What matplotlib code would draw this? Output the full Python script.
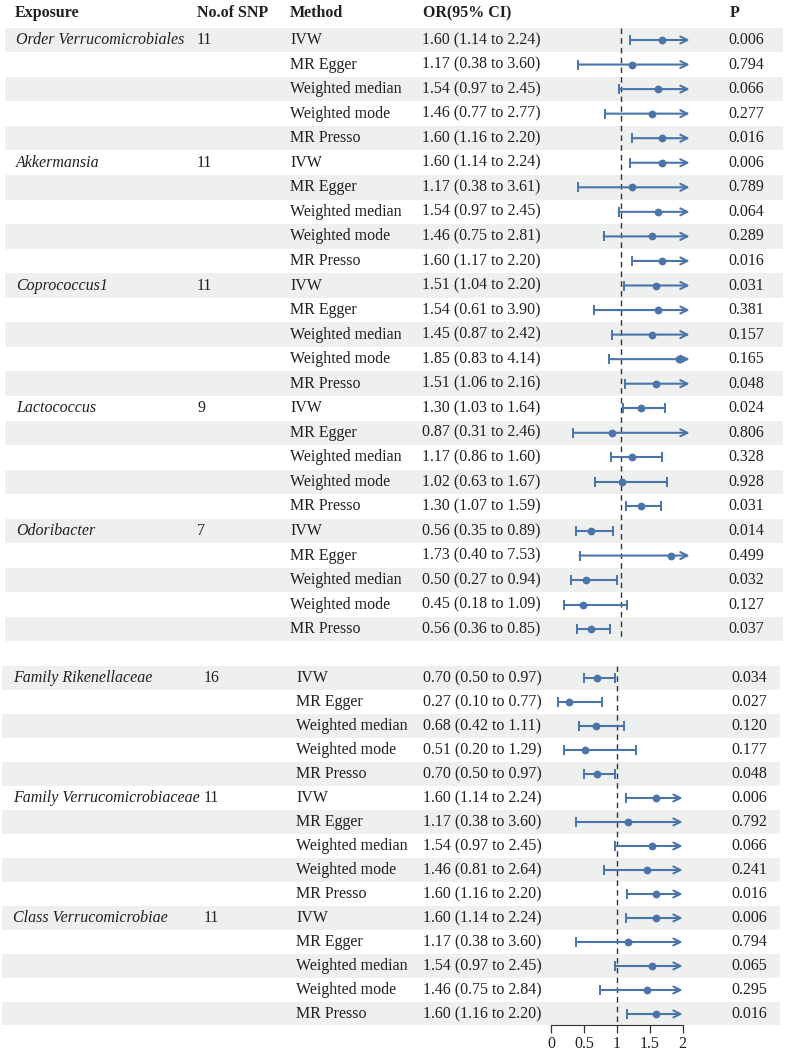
import matplotlib
matplotlib.use('Agg')
import matplotlib.pyplot as plt
import matplotlib.transforms as mtransforms

# top panel
top_exposure = ['Order Verrucomicrobiales', 'Akkermansia', 'Coprococcus1', 'Lactococcus', 'Odoribacter']
top_snp = ['11', '11', '11', '9', '7']
top_or = [1.60, 1.17, 1.54, 1.46, 1.60,
          1.60, 1.17, 1.54, 1.46, 1.60,
          1.51, 1.54, 1.45, 1.85, 1.51,
          1.30, 0.87, 1.17, 1.02, 1.30,
          0.56, 1.73, 0.50, 0.45, 0.56]
top_lo = [1.14, 0.38, 0.97, 0.77, 1.16,
          1.14, 0.38, 0.97, 0.75, 1.17,
          1.04, 0.61, 0.87, 0.83, 1.06,
          1.03, 0.31, 0.86, 0.63, 1.07,
          0.35, 0.40, 0.27, 0.18, 0.36]
top_hi = [2.24, 3.60, 2.45, 2.77, 2.20,
          2.24, 3.61, 2.45, 2.81, 2.20,
          2.20, 3.90, 2.42, 4.14, 2.16,
          1.64, 2.46, 1.60, 1.67, 1.59,
          0.89, 7.53, 0.94, 1.09, 0.85]
top_p = ['0.006', '0.794', '0.066', '0.277', '0.016',
         '0.006', '0.789', '0.064', '0.289', '0.016',
         '0.031', '0.381', '0.157', '0.165', '0.048',
         '0.024', '0.806', '0.328', '0.928', '0.031',
         '0.014', '0.499', '0.032', '0.127', '0.037']

# bottom panel
bot_exposure = ['Family Rikenellaceae', 'Family Verrucomicrobiaceae', 'Class Verrucomicrobiae']
bot_snp = ['16', '11', '11']
bot_or = [0.70, 0.27, 0.68, 0.51, 0.70,
          1.60, 1.17, 1.54, 1.46, 1.60,
          1.60, 1.17, 1.54, 1.46, 1.60]
bot_lo = [0.50, 0.10, 0.42, 0.20, 0.50,
          1.14, 0.38, 0.97, 0.81, 1.16,
          1.14, 0.38, 0.97, 0.75, 1.16]
bot_hi = [0.97, 0.77, 1.11, 1.29, 0.97,
          2.24, 3.60, 2.45, 2.64, 2.20,
          2.24, 3.60, 2.45, 2.84, 2.20]
bot_p = ['0.034', '0.027', '0.120', '0.177', '0.048',
         '0.006', '0.792', '0.066', '0.241', '0.016',
         '0.006', '0.794', '0.065', '0.295', '0.016']

methods = ['IVW', 'MR Egger', 'Weighted median', 'Weighted mode', 'MR Presso']

W, H = 787, 1054
FONT = 'Liberation Serif'
FS = 11.5
TXT = '#231f20'
BLUE = '#4a74aa'
SHADE = '#eef0ef'

fig = plt.figure(figsize=(W / 100, H / 100), dpi=100)


def make_ax(left, right, top, bottom):
    return fig.add_axes([left / W, 1 - bottom / H, (right - left) / W, (bottom - top) / H])


def fmt_ci(o, lo, hi):
    return f'{o:.2f} ({lo:.2f} to {hi:.2f})'


def panel(ax, exposure, snp, ors, los, his, ps, cols, xmax=2):
    tr = mtransforms.blended_transform_factory(fig.transFigure, ax.transData)
    n = len(ors)
    for i in range(n):
        if i % 2 == 0:
            ax.axhspan(i - 0.5, i + 0.5, color=SHADE, lw=0, zorder=0)
    for g, name in enumerate(exposure):
        r = g * 5
        ax.text(cols[0] / W, r, name, transform=tr, style='italic', ha='left', va='center',
                fontsize=FS, family=FONT, color=TXT)
        ax.text(cols[1] / W, r, snp[g], transform=tr, ha='left', va='center',
                fontsize=FS, family=FONT, color=TXT)
    for i in range(n):
        ax.text(cols[2] / W, i, methods[i % 5], transform=tr, ha='left', va='center',
                fontsize=FS, family=FONT, color=TXT)
        ax.text(cols[3] / W, i, fmt_ci(ors[i], los[i], his[i]), transform=tr, ha='left', va='center',
                fontsize=FS, family=FONT, color=TXT)
        ax.text(cols[4] / W, i, ps[i], transform=tr, ha='left', va='center',
                fontsize=FS, family=FONT, color=TXT)
        # forest marks
        lo, hi = los[i], his[i]
        if hi > xmax:
            ax.annotate('', xy=(xmax, i), xytext=(lo, i),
                        arrowprops=dict(arrowstyle='->,head_length=0.5,head_width=0.25',
                                        color=BLUE, lw=1.5, shrinkA=0, shrinkB=0), zorder=3)
            ax.plot([lo], [i], marker='|', ms=6.5, mew=1.4, color=BLUE, zorder=3)
        else:
            ax.plot([lo, hi], [i, i], color=BLUE, lw=1.5, zorder=3)
            ax.plot([lo, hi], [i, i], ls='none', marker='|', ms=6.5, mew=1.4, color=BLUE, zorder=3)
        ax.plot([ors[i]], [i], 'o', ms=4.6, color=BLUE, zorder=4)


# ---- top panel: rows centred at 40 + i*24.55 px, x: 0 -> 552 px, 68.8 px per unit
r0, dr = 40, 24.55
ax1 = make_ax(5, 783, r0 - 1.5 * dr, r0 + 24.6 * dr)
ax1.set_xlim((5 - 552) / 68.8, (783 - 552) / 68.8)
ax1.set_ylim(24.6, -1.5)
ax1.axis('off')
panel(ax1, top_exposure, top_snp, top_or, top_lo, top_hi, top_p, [16, 197, 290, 422, 728])
ax1.vlines(1, -0.5, 24.45, colors='#333333', linestyles=(0, (4, 3)), lw=1, zorder=2)
tr1 = mtransforms.blended_transform_factory(fig.transFigure, ax1.transData)
yh = (13 - r0) / dr
for x, s in zip([15, 197, 290, 423, 730], ['Exposure', 'No.of SNP', 'Method', 'OR(95% CI)', 'P']):
    ax1.text(x / W, yh, s, transform=tr1, ha='left', va='center', fontsize=FS,
             weight='bold', family=FONT, color=TXT)

# ---- bottom panel: rows centred at 678 + i*24 px, x: 0 -> 551 px, 65.8 px per unit
b0, db = 678, 24.0
ax2 = make_ax(2, 780, b0 - 0.5 * db, 1025)
ax2.set_xlim((2 - 551) / 65.8, (780 - 551) / 65.8)
ax2.set_ylim((1025 - b0) / db, -0.5)
panel(ax2, bot_exposure, bot_snp, bot_or, bot_lo, bot_hi, bot_p, [13, 204, 296, 423, 731])
ax2.vlines(1, -0.5, (1025 - b0) / db, colors='#333333', linestyles=(0, (4, 3)), lw=1, zorder=2)
for s in ['top', 'left', 'right']:
    ax2.spines[s].set_visible(False)
ax2.spines['bottom'].set_bounds(0, 2)
ax2.spines['bottom'].set_color('#333333')
ax2.set_yticks([])
ax2.set_xticks([0, 0.5, 1, 1.5, 2])
ax2.set_xticklabels(['0', '0.5', '1', '1.5', '2'], family=FONT, fontsize=FS, color=TXT)
ax2.tick_params(axis='x', length=6, width=0.9, color='#333333', pad=2)
ax2.patch.set_alpha(0)

fig.savefig('out.png', dpi=100)
